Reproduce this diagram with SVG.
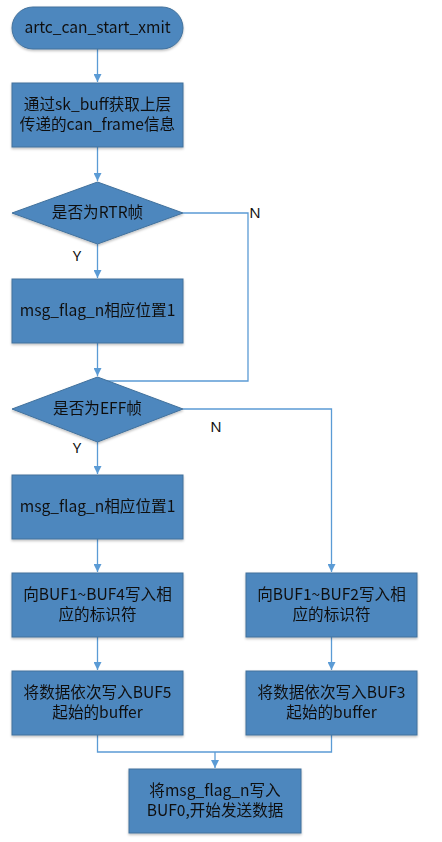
<svg xmlns="http://www.w3.org/2000/svg" width="442" height="842" viewBox="0 0 442 842">
<style>
.n{fill:#4E87BE;stroke:#41719C;stroke-width:1}
.t{font-family:"Noto Sans CJK SC","Noto Sans",sans-serif;font-size:15.6px;fill:#111;text-anchor:middle}
.l{font-family:"Noto Sans","Noto Sans CJK SC",sans-serif;font-size:15px;fill:#111;text-anchor:middle}
.c{fill:none;stroke:#5B9BD5;stroke-width:1.3}
</style>
<defs>
<marker id="a" viewBox="0 0 10 10" refX="10" refY="5" markerWidth="8" markerHeight="8" markerUnits="userSpaceOnUse" orient="auto"><path d="M0,0L10,5L0,10Z" fill="#5B9BD5"/></marker>
<filter id="s" x="-10%" y="-10%" width="120%" height="130%"><feDropShadow dx="0" dy="1.5" stdDeviation="1.2" flood-color="#000" flood-opacity="0.25"/></filter>
</defs>
<g id="connectors">
<path class="c" d="M97.5,49V82" marker-end="url(#a)"/>
<path class="c" d="M97.5,147V181" marker-end="url(#a)"/>
<path class="c" d="M97.5,244V278" marker-end="url(#a)"/>
<path class="c" d="M183,213H248V381H97.5"/>
<path class="c" d="M97.5,343V376" marker-end="url(#a)"/>
<path d="M92.5,385L97.5,377L102.5,385Z" fill="#5B9BD5" opacity="0.8"/>
<path class="c" d="M97.5,442V474" marker-end="url(#a)"/>
<path class="c" d="M183,409H331.5V572" marker-end="url(#a)"/>
<path class="c" d="M97.5,539V572" marker-end="url(#a)"/>
<path class="c" d="M97.5,637V670" marker-end="url(#a)"/>
<path class="c" d="M331.5,637V670" marker-end="url(#a)"/>
<path class="c" d="M97.5,735V752H331.5V735"/>
<path class="c" d="M215,752V768" marker-end="url(#a)"/>
<text class="l" x="255" y="218">N</text>
<text class="l" x="77" y="261">Y</text>
<text class="l" x="216" y="432">N</text>
<text class="l" x="77" y="453">Y</text>
</g>
<g id="start" filter="url(#s)"><rect class="n" x="12" y="7" width="171" height="42" rx="21"/><text class="t" x="97.5" y="33">artc_can_start_xmit</text></g>
<g id="get_info" filter="url(#s)"><rect class="n" x="12" y="83" width="171" height="64"/><text class="t" x="97.5" y="110">通过sk_buff获取上层</text><text class="t" x="97.5" y="130">传递的can_frame信息</text></g>
<g id="is_rtr" filter="url(#s)"><path class="n" d="M97.5,182L183,213L97.5,244L12,213Z"/><text class="t" x="97.5" y="218">是否为RTR帧</text></g>
<g id="set_flag1" filter="url(#s)"><rect class="n" x="12" y="279" width="171" height="64"/><text class="t" x="97.5" y="316">msg_flag_n相应位置1</text></g>
<g id="is_eff" filter="url(#s)"><path class="n" d="M97.5,377L183,409L97.5,442L12,409Z"/><text class="t" x="97.5" y="414">是否为EFF帧</text></g>
<g id="set_flag2" filter="url(#s)"><rect class="n" x="12" y="475" width="171" height="64"/><text class="t" x="97.5" y="512">msg_flag_n相应位置1</text></g>
<g id="buf14" filter="url(#s)"><rect class="n" x="12" y="573" width="171" height="64"/><text class="t" x="97.5" y="600">向BUF1~BUF4写入相</text><text class="t" x="97.5" y="620">应的标识符</text></g>
<g id="buf12" filter="url(#s)"><rect class="n" x="246" y="573" width="171" height="64"/><text class="t" x="331.5" y="600">向BUF1~BUF2写入相</text><text class="t" x="331.5" y="620">应的标识符</text></g>
<g id="data5" filter="url(#s)"><rect class="n" x="12" y="671" width="171" height="64"/><text class="t" x="97.5" y="698">将数据依次写入BUF5</text><text class="t" x="97.5" y="718">起始的buffer</text></g>
<g id="data3" filter="url(#s)"><rect class="n" x="246" y="671" width="171" height="64"/><text class="t" x="331.5" y="698">将数据依次写入BUF3</text><text class="t" x="331.5" y="718">起始的buffer</text></g>
<g id="send" filter="url(#s)"><rect class="n" x="129" y="769" width="172" height="64"/><text class="t" x="215" y="796">将msg_flag_n写入</text><text class="t" x="215" y="816">BUF0,开始发送数据</text></g>
</svg>
